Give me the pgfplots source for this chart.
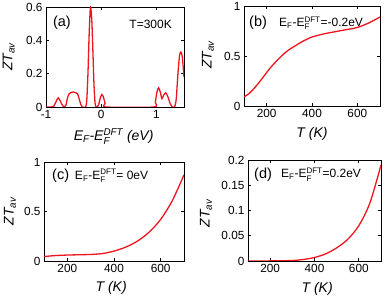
\documentclass[border=0pt]{standalone}
\usepackage{fontspec}
\setmainfont{Liberation Sans}
\usepackage{amsmath}
\usepackage{pgfplots}
\pgfplotsset{compat=1.18}
\definecolor{cred}{RGB}{240,20,30}
\pgfplotsset{
  panel/.style={
    scale only axis,
    anchor=south west,
    axis line style={line width=0.9pt},
    every tick/.style={line width=0.8pt,black},
    major tick length=3pt,
    tick align=inside,
    /pgf/number format/assume math mode=true,
    tick label style={font=\fontsize{11.8}{13}\selectfont},
    label style={font=\fontsize{14}{16}\selectfont},
    minor tick num=0,
  },
  tcurve/.style={cred, line width=1.3pt, smooth, no marks},
}
\begin{document}
\begin{tikzpicture}
\useasboundingbox (0,0) rectangle (392pt,296pt);
% (a)
\begin{axis}[panel, at={(46pt,189pt)}, width=138pt, height=100pt,
  xmin=-1, xmax=1.5, ymin=0, ymax=0.6,
  xtick={-1,0,1}, xticklabels={-1,0,1},
  ytick={0,0.2,0.4,0.6}, yticklabels={0,0.2,0.4,0.6},
  xlabel={\textit{E$_\text{F}$-E$_\text{F}^\text{DFT}$ (eV)}},
  ylabel={\textit{ZT$_\text{av}$}},
  xlabel style={at={(axis description cs:0.49,-0.18)},anchor=north},
  ylabel style={at={(axis description cs:-0.27,0.5)},anchor=center},
]
\addplot[tcurve, tension=0.45] coordinates {
(-1.0,0) (-0.9,0) (-0.86,0.005) (-0.82,0.03) (-0.78,0.055) (-0.74,0.035) (-0.70,0.008) (-0.67,0)
(-0.64,0.01) (-0.61,0.055) (-0.58,0.08) (-0.54,0.088) (-0.50,0.09) (-0.46,0.085) (-0.43,0.08) (-0.40,0.05) (-0.37,0.015) (-0.34,0)
(-0.28,0) (-0.26,0.05) (-0.24,0.2) (-0.22,0.42) (-0.20,0.58) (-0.19,0.6) (-0.17,0.52) (-0.15,0.33) (-0.13,0.13) (-0.11,0.02) (-0.09,0)
(-0.05,0.01) (-0.02,0.05) (0.01,0.075) (0.04,0.06) (0.07,0.02) (0.09,0)
(0.95,0) (0.98,0.03) (1.01,0.09) (1.04,0.115) (1.07,0.09) (1.10,0.05) (1.13,0.07) (1.17,0.085) (1.21,0.06) (1.25,0.02) (1.29,0)
(1.33,0) (1.36,0.05) (1.39,0.2) (1.42,0.31) (1.445,0.33) (1.47,0.3) (1.49,0.22) (1.5,0.18)
};
\node[anchor=west,inner sep=0,font=\fontsize{14.5}{16}\selectfont] at (axis description cs:0.05,0.84) {(a)};
\node[anchor=east,inner sep=0,font=\fontsize{12}{14}\selectfont] at (axis description cs:0.913,0.83) {T=300K};
\end{axis}
% (b)
\begin{axis}[panel, at={(244pt,190pt)}, width=136pt, height=100pt,
  xmin=100, xmax=700, ymin=0, ymax=1,
  xtick={200,400,600}, ytick={0,0.5,1}, yticklabels={0,0.5,1},
  xlabel={\textit{T (K)}},
  ylabel={\textit{ZT$_\text{av}$}},
  xlabel style={at={(axis description cs:0.5,-0.175)},anchor=north},
  ylabel style={at={(axis description cs:-0.265,0.51)},anchor=center},
]
\addplot[tcurve] coordinates {
(100,0.09) (125,0.13) (150,0.19) (175,0.26) (200,0.335) (225,0.405) (250,0.465) (275,0.52) (300,0.565)
(325,0.60) (350,0.635) (375,0.665) (400,0.69) (450,0.72) (500,0.742) (550,0.763) (600,0.785) (650,0.83) (700,0.89)
};
\node[anchor=west,inner sep=0,font=\fontsize{14.5}{16}\selectfont] at (axis description cs:0.037,0.83) {(b)};
\node[anchor=west,inner sep=0,font=\fontsize{12}{14}\selectfont] at (axis description cs:0.257,0.83) {E$_\text{F}$-E$_\text{F}^\text{DFT}$=-0.2eV};
\end{axis}
% (c)
\begin{axis}[panel, at={(44pt,35pt)}, width=140pt, height=99pt,
  xmin=100, xmax=700, ymin=0, ymax=1,
  xtick={200,400,600}, ytick={0,0.5,1}, yticklabels={0,0.5,1},
  xlabel={\textit{T (K)}},
  ylabel={\textit{ZT$_\text{av}$}},
  xlabel style={at={(axis description cs:0.48,-0.175)},anchor=north},
  ylabel style={at={(axis description cs:-0.243,0.5)},anchor=center},
]
\addplot[tcurve] coordinates {
(100,0.045) (150,0.055) (200,0.06) (250,0.063) (300,0.066) (350,0.075) (400,0.10) (450,0.14)
(500,0.20) (550,0.29) (600,0.42) (650,0.61) (700,0.87)
};
\node[anchor=west,inner sep=0,font=\fontsize{14.5}{16}\selectfont] at (axis description cs:0.057,0.86) {(c)};
\node[anchor=west,inner sep=0,font=\fontsize{12}{14}\selectfont] at (axis description cs:0.22,0.86) {E$_\text{F}$-E$_\text{F}^\text{DFT}$= 0eV};
\end{axis}
% (d)
\begin{axis}[panel, at={(248pt,35pt)}, width=133pt, height=101pt,
  xmin=100, xmax=700, ymin=0, ymax=0.2,
  xtick={200,400,600}, ytick={0,0.05,0.1,0.15,0.2}, yticklabels={0,0.05,0.1,0.15,0.2},
  xlabel={\textit{T (K)}},
  ylabel={\textit{ZT$_\text{av}$}},
  xlabel style={at={(axis description cs:0.52,-0.175)},anchor=north},
  ylabel style={at={(axis description cs:-0.316,0.47)},anchor=center},
]
\addplot[tcurve] coordinates {
(100,0) (200,0.0002) (300,0.001) (350,0.003) (400,0.007) (450,0.014) (500,0.026) (550,0.043)
(600,0.07) (650,0.115) (700,0.19)
};
\node[anchor=west,inner sep=0,font=\fontsize{14.5}{16}\selectfont] at (axis description cs:0.045,0.856) {(d)};
\node[anchor=west,inner sep=0,font=\fontsize{12}{14}\selectfont] at (axis description cs:0.248,0.856) {E$_\text{F}$-E$_\text{F}^\text{DFT}$=0.2eV};
\end{axis}
\end{tikzpicture}
\end{document}
